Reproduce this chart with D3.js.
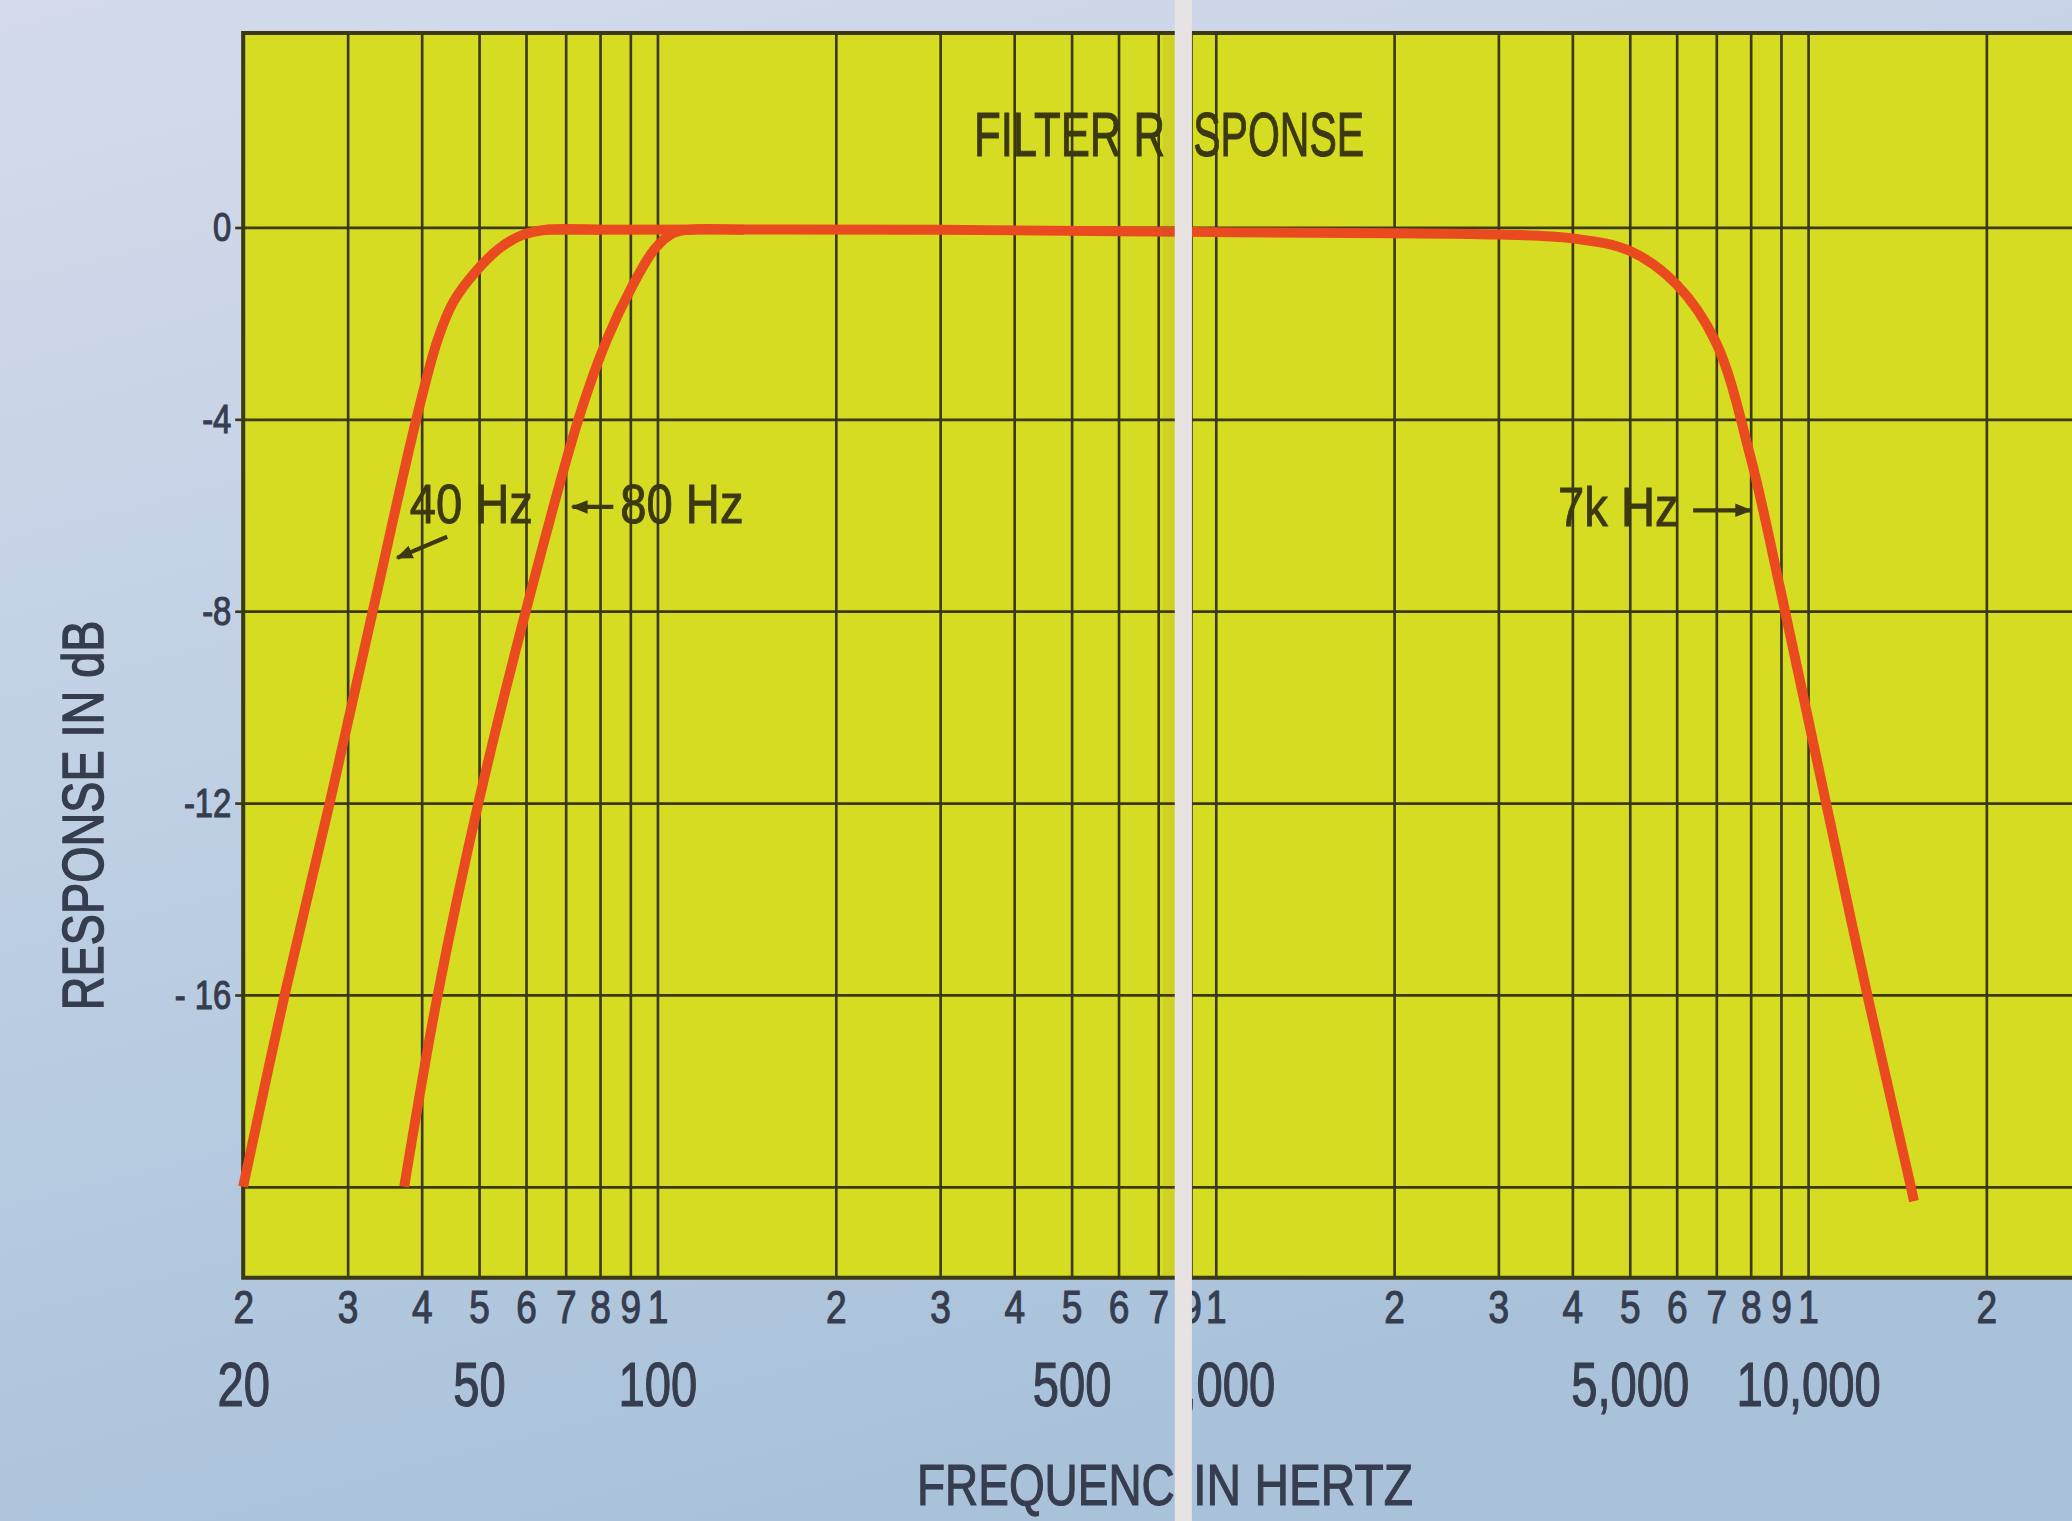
<!DOCTYPE html>
<html>
<head>
<meta charset="utf-8">
<script src="https://cdn.jsdelivr.net/npm/d3@7"></script>
<style>
  body { margin: 0; background: #c6d3e4; }
  svg { display: block; }
  text { font-family: "Liberation Sans", Arial, sans-serif; }
</style>
</head>
<body>
<svg id="chart"></svg>
<script>
// response curves: frequency in Hz, response in dB
const hp40Freq = [20, 23.5, 28.0, 33.1, 39.2, 42.6, 45.3, 49.4, 54, 58.9, 65, 80];
const hp40Db   = [-20, -16, -12, -8, -4, -2.34, -1.55, -0.92, -0.45, -0.17, -0.05, -0.05];

const hp80Freq = [37.4, 42.6, 49.9, 60.0, 73.6, 82.2, 90.6, 99, 106, 113, 140];
const hp80Db   = [-20, -16, -12, -8, -4, -2.34, -1.24, -0.45, -0.13, -0.05, -0.05];

const lp7kFreq = [65, 300, 1000, 3000, 4000, 5000, 6000, 7000, 8000, 9000, 10730, 12600, 14920, 15100];
const lp7kDb   = [-0.05, -0.05, -0.1, -0.15, -0.23, -0.49, -1.19, -2.41, -4.79, -7.59, -12, -16, -20, -20.3];

// axes
const gridFreqs = [20, 30, 40, 50, 60, 70, 80, 90, 100, 200, 300, 400, 500, 600, 700, 800, 900,
                   1000, 2000, 3000, 4000, 5000, 6000, 7000, 8000, 9000, 10000, 20000];
// the "8" of 800 is lost in the fold of the page
const digitTicks = gridFreqs.filter(f => f !== 800);
const decadeTicks = [20, 50, 100, 500, 1000, 5000, 10000];
const decadeLabels = ["20", "50", "100", "500", "1,000", "5,000", "10,000"];
const dbGrid = [0, -4, -8, -12, -16, -20];
const dbTicks = [0, -4, -8, -12, -16];
const dbLabels = ["0", "-4", "-8", "-12", "- 16"];

// curve labels
const noteText = ["40 Hz", "80 Hz", "7k Hz"];
const noteFreq = [38.2, 86.6, 3785];
const noteDb = [-6.17, -6.17, -6.23];
const leaderFrom = [[44.2, -6.45], [84.3, -5.83], [6400, -5.9]];
const leaderTo   = [[36.4, -6.89], [71.9, -5.83], [8000, -5.9]];

// set the dimensions (drawn in a 1568 wide box, scaled to the window)
const W = 1568, H = 1151;
const svg = d3.select("#chart")
    .attr("viewBox", `0 0 ${W} ${H}`)
    .attr("width", 2072)
    .attr("height", 1521);

// the page is folded near 800 Hz: a strip of the log axis is lost in the crease
const x = d3.scaleLog()
    .domain([20, 747, 912, 30000])
    .range([184, 889, 902, 1582]);
const y = d3.scaleLinear().domain([4.05, -21.9]).range([25, 967]);

const plotLeft = x(20), plotRight = x(30000), plotTop = y(4.05), plotBottom = y(-21.9);
const ink = "#3c3812", labelInk = "#363d4f";

const defs = svg.append("defs");
const bg = defs.append("linearGradient").attr("id", "bg")
    .attr("x1", 0).attr("y1", 0).attr("x2", 0.35).attr("y2", 1);
bg.append("stop").attr("offset", 0).attr("stop-color", "#d5dbeb");
bg.append("stop").attr("offset", 0.55).attr("stop-color", "#bccee3");
bg.append("stop").attr("offset", 1).attr("stop-color", "#a9c2da");
defs.append("clipPath").attr("id", "clipL")
    .append("rect").attr("x", -50).attr("y", -3000).attr("width", 889 + 50).attr("height", 6000);
defs.append("clipPath").attr("id", "clipR")
    .append("rect").attr("x", 902).attr("y", -3000).attr("width", 3000).attr("height", 6000);
defs.append("marker").attr("id", "arrow")
    .attr("viewBox", "0 0 10 10").attr("refX", 9).attr("refY", 5)
    .attr("markerWidth", 4).attr("markerHeight", 4).attr("orient", "auto")
    .append("path").attr("d", "M0,1 L10,5 L0,9 z").attr("fill", ink);

svg.append("rect").attr("width", W).attr("height", H).attr("fill", "url(#bg)");

// yellow chart paper
svg.append("rect")
    .attr("x", plotLeft).attr("y", plotTop)
    .attr("width", plotRight - plotLeft).attr("height", plotBottom - plotTop)
    .attr("fill", "#d5dc22");

// vertical grid lines
svg.append("g")
    .attr("transform", `translate(0,${plotTop})`)
    .call(d3.axisTop(x).tickValues(gridFreqs).tickSize(-(plotBottom - plotTop)).tickFormat(""))
    .call(g => g.select(".domain").remove())
    .selectAll("line").attr("stroke", ink).attr("stroke-width", 2);

// horizontal grid lines
svg.append("g")
    .attr("transform", `translate(${plotLeft},0)`)
    .call(d3.axisLeft(y).tickValues(dbGrid).tickSize(-(plotRight - plotLeft)).tickFormat(""))
    .call(g => g.select(".domain").remove())
    .selectAll("line").attr("stroke", ink).attr("stroke-width", 2.1);

// frame
svg.append("path")
    .attr("d", `M${plotRight},${plotTop}H${plotLeft}V${plotBottom}H${plotRight}`)
    .attr("fill", "none").attr("stroke", ink).attr("stroke-width", 3);

// y axis labels
svg.append("g")
    .attr("transform", `translate(${plotLeft},0)`)
    .call(d3.axisLeft(y).tickValues(dbTicks).tickSize(6).tickPadding(3)
        .tickFormat((d, i) => dbLabels[i]))
    .call(g => g.select(".domain").remove())
    .call(g => g.selectAll("line").attr("stroke", ink).attr("stroke-width", 2))
    .selectAll("text")
    .attr("fill", labelInk).attr("font-size", 31)
    .attr("stroke", labelInk).attr("stroke-width", 0.9)
    .attr("transform", "scale(0.8,1)")
    .attr("x", -9 / 0.8);

// response curves
const line = d3.line()
    .x(d => x(d[0]))
    .y(d => y(d[1]))
    .curve(d3.curveCatmullRom.alpha(0.5));

const curves = [
    d3.zip(hp40Freq, hp40Db),
    d3.zip(hp80Freq, hp80Db),
    d3.zip(lp7kFreq, lp7kDb),
];
svg.selectAll(".curve")
    .data(curves)
    .join("path")
    .attr("class", "curve")
    .attr("d", line)
    .attr("fill", "none")
    .attr("stroke", "#ea4a20")
    .attr("stroke-width", 7.5)
    .attr("stroke-linejoin", "round");

// curve labels and leaders
svg.selectAll(".note")
    .data(noteText)
    .join("text")
    .attr("class", "note")
    .attr("transform", (d, i) => `translate(${x(noteFreq[i])},${y(noteDb[i])}) scale(0.85,1)`)
    .attr("font-size", 42)
    .attr("fill", ink).attr("stroke", ink).attr("stroke-width", 0.7)
    .text(d => d);

svg.selectAll(".leader")
    .data(leaderFrom)
    .join("line")
    .attr("class", "leader")
    .attr("x1", d => x(d[0])).attr("y1", d => y(d[1]))
    .attr("x2", (d, i) => x(leaderTo[i][0])).attr("y2", (d, i) => y(leaderTo[i][1]))
    .attr("stroke", ink).attr("stroke-width", 3.2)
    .attr("marker-end", "url(#arrow)");

// title, split by the crease
const title = svg.append("g").attr("fill", ink).attr("font-size", 47)
    .attr("stroke", ink).attr("stroke-width", 0.8);
title.append("text").attr("transform", "translate(737,118) scale(0.705,1)").text("FILTER R");
title.append("text").attr("transform", "translate(903,118) scale(0.66,1)").text("SPONSE");

// x axis labels: digits under every grid line, then the round numbers
function xLabels(values, fmt, size, pad, sx) {
    [[values.filter(d => d < 800), "url(#clipL)"], [values.filter(d => d >= 800), "url(#clipR)"]]
        .forEach(([vals, clip]) => {
            svg.append("g")
                .attr("transform", `translate(0,${plotBottom})`)
                .attr("clip-path", clip)
                .call(d3.axisBottom(x).tickValues(vals).tickSize(0).tickPadding(pad).tickFormat(fmt))
                .call(g => g.select(".domain").remove())
                .selectAll("text")
                .attr("fill", labelInk).attr("font-size", size)
                .attr("stroke", labelInk).attr("stroke-width", 0.9)
                .attr("transform", `scale(${sx},1)`);
        });
}
xLabels(digitTicks, d => String(d)[0], 35, 9, 0.8);
xLabels(decadeTicks, d => decadeLabels[decadeTicks.indexOf(d)], 47, 64, 0.76);

const xTitle = svg.append("g").attr("fill", labelInk).attr("font-size", 44)
    .attr("stroke", labelInk).attr("stroke-width", 0.9);
xTitle.append("text").attr("transform", "translate(694,1139) scale(0.79,1)").text("FREQUENC");
xTitle.append("text").attr("transform", "translate(903,1139) scale(0.823,1)").text("IN HERTZ");

svg.append("text")
    .attr("transform", "translate(78,617) rotate(-90) scale(0.804,1)")
    .attr("text-anchor", "middle")
    .attr("font-size", 44)
    .attr("fill", labelInk).attr("stroke", labelInk).attr("stroke-width", 1.1)
    .text("RESPONSE IN dB");

// the crease
svg.append("rect").attr("x", 880).attr("y", plotTop).attr("width", 9).attr("height", plotBottom - plotTop)
    .attr("fill", "#6e6040").attr("opacity", 0.08);
svg.append("rect").attr("x", 889).attr("y", 0).attr("width", 13).attr("height", H)
    .attr("fill", "#e6e3e2");
</script>
</body>
</html>
